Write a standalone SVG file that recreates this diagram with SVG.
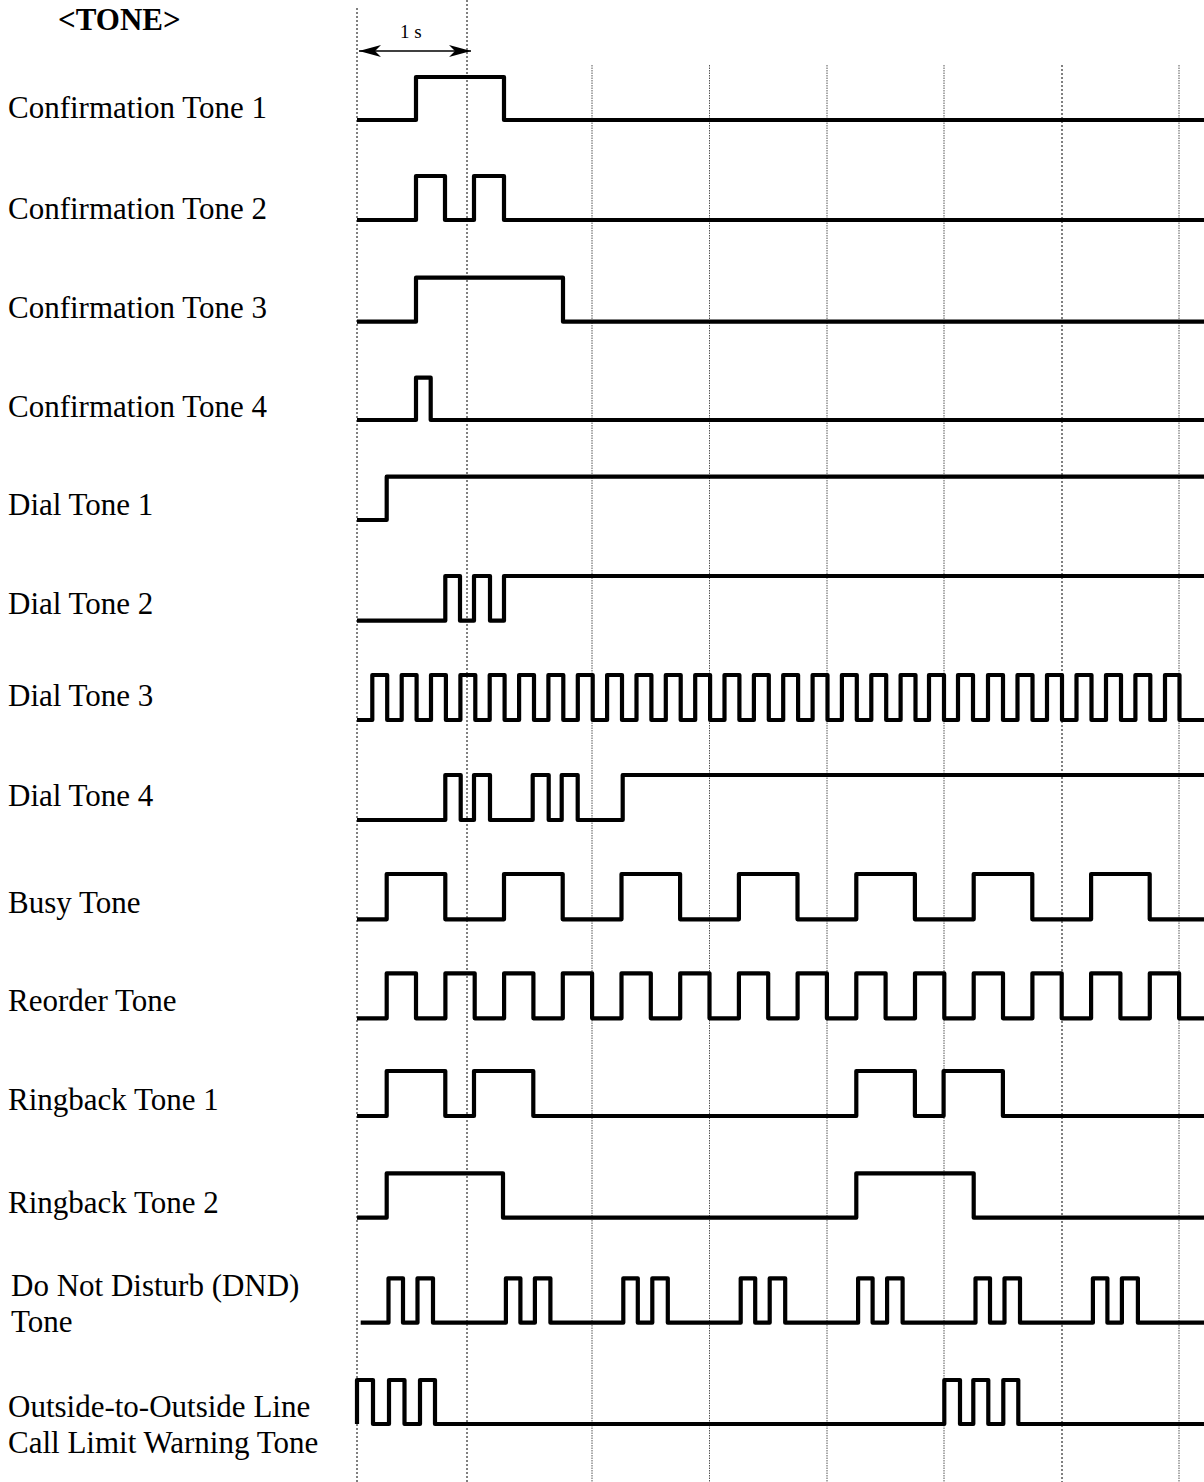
<svg xmlns="http://www.w3.org/2000/svg" width="1204" height="1482" viewBox="0 0 1204 1482">
<style>
.lbl{font-family:"Liberation Serif","Times New Roman",serif;font-size:31px;fill:#000}
.ttl{font-family:"Liberation Serif","Times New Roman",serif;font-size:31px;font-weight:bold;fill:#000}
.sm{font-family:"Liberation Serif","Times New Roman",serif;font-size:19px;fill:#000}
.wave{fill:none;stroke:#000;stroke-width:4.2;stroke-linejoin:round;stroke-linecap:butt}
.g1{stroke:#000;stroke-width:1;stroke-dasharray:2 2;fill:none}
.g2{stroke:#555;stroke-width:1;stroke-dasharray:1.5 1;fill:none}
</style>
<defs>
<marker id="ah" viewBox="-22 -6 22 12" refX="0" refY="0" markerWidth="22" markerHeight="12" markerUnits="userSpaceOnUse" orient="auto-start-reverse">
<path d="M0,0 L-22,-6 L-16,0 L-22,6 Z" fill="#000"/>
</marker>
</defs>
<rect width="1204" height="1482" fill="#fff"/>
<g id="grid">
<line class="g1" x1="357" y1="8" x2="357" y2="1482"/>
<line class="g1" x1="467" y1="0" x2="467" y2="1482"/>
<line class="g2" x1="592" y1="65" x2="592" y2="1482"/>
<line class="g2" x1="709.5" y1="65" x2="709.5" y2="1482"/>
<line class="g2" x1="827" y1="65" x2="827" y2="1482"/>
<line class="g2" x1="944" y1="65" x2="944" y2="1482"/>
<line class="g1" x1="1062" y1="65" x2="1062" y2="1482"/>
<line class="g2" x1="1179" y1="65" x2="1179" y2="1482"/>
</g>
<g id="title"><text class="ttl" x="58" y="30">&lt;TONE&gt;</text></g>
<g id="scale">
<line x1="359" y1="51" x2="471" y2="51" stroke="#000" stroke-width="1.5" marker-start="url(#ah)" marker-end="url(#ah)"/>
<text class="sm" x="400" y="38">1 s</text>
</g>
<g id="conf1"><text class="lbl" x="8" y="118">Confirmation Tone 1</text>
<path class="wave" d="M357,120 H416 V77 H504 V120 H1204"/></g>
<g id="conf2"><text class="lbl" x="8" y="219">Confirmation Tone 2</text>
<path class="wave" d="M357,220 H416 V176 H445 V220 H474 V176 H504 V220 H1204"/></g>
<g id="conf3"><text class="lbl" x="8" y="318">Confirmation Tone 3</text>
<path class="wave" d="M357,321.7 H416 V277.7 H563 V321.7 H1204"/></g>
<g id="conf4"><text class="lbl" x="8" y="417">Confirmation Tone 4</text>
<path class="wave" d="M357,420 H416 V377.7 H430.7 V420 H1204"/></g>
<g id="dial1"><text class="lbl" x="8" y="515">Dial Tone 1</text>
<path class="wave" d="M357,520 H386.7 V476.7 H1204"/></g>
<g id="dial2"><text class="lbl" x="8" y="614">Dial Tone 2</text>
<path class="wave" d="M357,620.7 H445.3 V576 H460 V620.7 H474 V576 H490 V620.7 H504 V576 H1204"/></g>
<g id="dial3"><text class="lbl" x="8" y="706">Dial Tone 3</text>
<path class="wave" d="M357,720 H372.3 V675 H387.2 V720 H401.7 V675 H416.6 V720 H431 V675 H445.9 V720 H460.4 V675 H475.3 V720 H489.7 V675 H504.6 V720 H519.1 V675 H534 V720 H548.4 V675 H563.3 V720 H577.8 V675 H592.7 V720 H607.1 V675 H622 V720 H636.5 V675 H651.4 V720 H665.8 V675 H680.7 V720 H695.2 V675 H710.1 V720 H724.5 V675 H739.4 V720 H753.9 V675 H768.8 V720 H783.2 V675 H798.1 V720 H812.6 V675 H827.5 V720 H841.9 V675 H856.8 V720 H871.3 V675 H886.2 V720 H900.6 V675 H915.5 V720 H929 V675 H944 V720 H958 V675 H973 V720 H988 V675 H1003 V720 H1017.5 V675 H1032.5 V720 H1047 V675 H1062 V720 H1076.5 V675 H1091.5 V720 H1106 V675 H1121 V720 H1135.4 V675 H1150.3 V720 H1165 V675 H1179.5 V720 H1204"/></g>
<g id="dial4"><text class="lbl" x="8" y="806">Dial Tone 4</text>
<path class="wave" d="M357,820 H445.3 V775 H460.7 V820 H474 V775 H490 V820 H532.7 V775 H548.7 V820 H561.7 V775 H577.7 V820 H622.7 V775 H1204"/></g>
<g id="busy"><text class="lbl" x="8" y="913">Busy Tone</text>
<path class="wave" d="M357,919.3 H386.7 V874 H445.3 V919.3 H504 V874 H562.7 V919.3 H621.5 V874 H680.1 V919.3 H738.9 V874 H797.5 V919.3 H856.3 V874 H914.9 V919.3 H973.7 V874 H1032.3 V919.3 H1091.1 V874 H1149.7 V919.3 H1204"/></g>
<g id="reorder"><text class="lbl" x="8" y="1011">Reorder Tone</text>
<path class="wave" d="M357,1018.3 H386.7 V973.3 H416 V1018.3 H445.4 V973.3 H474.7 V1018.3 H504.1 V973.3 H533.4 V1018.3 H562.8 V973.3 H592.1 V1018.3 H621.5 V973.3 H650.8 V1018.3 H680.2 V973.3 H709.5 V1018.3 H738.9 V973.3 H768.2 V1018.3 H797.6 V973.3 H826.9 V1018.3 H856.3 V973.3 H885.6 V1018.3 H915 V973.3 H944.3 V1018.3 H973.7 V973.3 H1003 V1018.3 H1032.4 V973.3 H1061.7 V1018.3 H1091.1 V973.3 H1120.4 V1018.3 H1149.8 V973.3 H1179.1 V1018.3 H1204"/></g>
<g id="ringback1"><text class="lbl" x="8" y="1110">Ringback Tone 1</text>
<path class="wave" d="M357,1116 H386.7 V1071 H445.3 V1116 H474 V1071 H533.3 V1116 H856.3 V1071 H914.9 V1116 H943.6 V1071 H1002.9 V1116 H1204"/></g>
<g id="ringback2"><text class="lbl" x="8" y="1213">Ringback Tone 2</text>
<path class="wave" d="M357,1217.7 H386.7 V1173.3 H503 V1217.7 H856.3 V1173.3 H973.7 V1217.7 H1204"/></g>
<g id="dnd"><text class="lbl" x="11" y="1296">Do Not Disturb (DND)</text><text class="lbl" x="11" y="1332">Tone</text>
<path class="wave" d="M360.7,1322.7 H388.5 V1278.3 H403 V1322.7 H417.5 V1278.3 H433 V1322.7 H505.9 V1278.3 H520.4 V1322.7 H534.9 V1278.3 H550.4 V1322.7 H623.3 V1278.3 H637.8 V1322.7 H652.3 V1278.3 H667.8 V1322.7 H740.7 V1278.3 H755.2 V1322.7 H769.7 V1278.3 H785.2 V1322.7 H858.1 V1278.3 H872.6 V1322.7 H887.1 V1278.3 H902.6 V1322.7 H975.5 V1278.3 H990 V1322.7 H1004.5 V1278.3 H1020 V1322.7 H1092.9 V1278.3 H1107.4 V1322.7 H1121.9 V1278.3 H1137.9 V1322.7 H1204"/></g>
<g id="outside"><text class="lbl" x="8" y="1417">Outside-to-Outside Line</text><text class="lbl" x="8" y="1453">Call Limit Warning Tone</text>
<path class="wave" d="M357,1424 V1380 H373 V1424 H389 V1380 H404.5 V1424 H420 V1380 H435 V1424 H944.3 V1380 H960 V1424 H973.3 V1380 H988.3 V1424 H1003.3 V1380 H1018.3 V1424 H1204"/></g>
</svg>
